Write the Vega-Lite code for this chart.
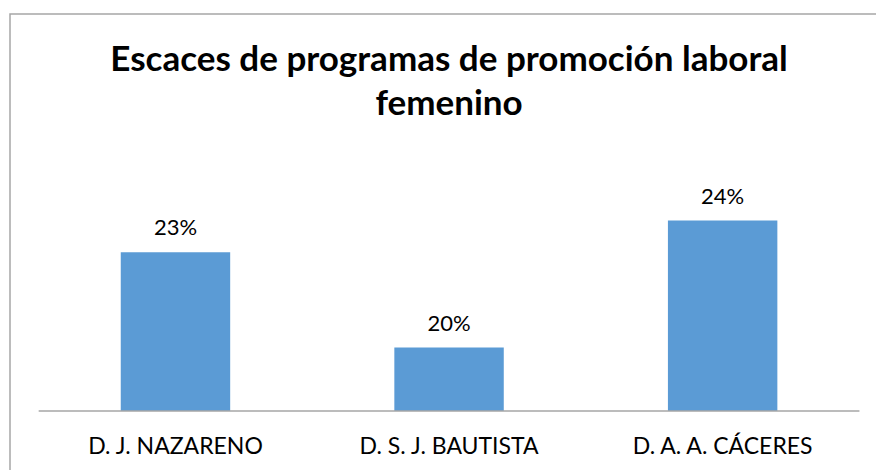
{
  "$schema": "https://vega.github.io/schema/vega-lite/v6.json",
  "autosize": "none",
  "padding": {"left": 10, "top": 14, "right": 0, "bottom": 0},
  "width": 870,
  "height": 460,
  "background": "white",
  "config": {
    "view": {"stroke": "#A6A6A6", "strokeWidth": 1.5},
    "font": "Lato"
  },
  "title": {
    "text": ["Escaces de programas de promoción laboral", "femenino"],
    "font": "Lato",
    "fontSize": 35,
    "fontWeight": "bold",
    "color": "#000000",
    "lineHeight": 44,
    "anchor": "middle",
    "frame": "group",
    "offset": 0,
    "dx": 4,
    "dy": 108
  },
  "data": {
    "values": [
      {"cat": "D. J. NAZARENO", "value": 0.23},
      {"cat": "D. S. J. BAUTISTA", "value": 0.20},
      {"cat": "D. A. A. CÁCERES", "value": 0.24}
    ]
  },
  "encoding": {
    "x": {
      "field": "cat",
      "type": "nominal",
      "sort": null,
      "scale": {"paddingInner": 0.6, "paddingOuter": 0.39, "align": 0.519},
      "axis": {
        "title": null,
        "orient": "bottom",
        "offset": -63,
        "domain": false,
        "ticks": false,
        "labelFont": "Lato",
        "labelFontSize": 23,
        "labelColor": "#000000",
        "labelPadding": 24,
        "labelAngle": 0,
        "labelLimit": 0
      }
    }
  },
  "layer": [
    {
      "mark": {"type": "bar", "color": "#5B9BD5"},
      "encoding": {
        "y": {
          "field": "value",
          "type": "quantitative",
          "scale": {"domain": [0.16016, 0.30504], "zero": false, "nice": false},
          "axis": null
        },
        "y2": {"datum": 0.18}
      }
    },
    {
      "mark": {"type": "text", "baseline": "alphabetic", "dy": -17, "fontSize": 22, "font": "Lato", "color": "#000000"},
      "encoding": {
        "y": {"field": "value", "type": "quantitative"},
        "text": {"field": "value", "type": "quantitative", "format": ".0%"}
      }
    },
    {
      "data": {"values": [{"first": "D. J. NAZARENO", "last": "D. A. A. CÁCERES", "base": 0.18}]},
      "mark": {"type": "rule", "color": "#A6A6A6", "strokeWidth": 1.5},
      "encoding": {
        "x": {"field": "first", "type": "nominal", "bandPosition": -0.75},
        "x2": {"field": "last", "bandPosition": 1.75},
        "y": {"field": "base", "type": "quantitative"}
      }
    }
  ]
}
